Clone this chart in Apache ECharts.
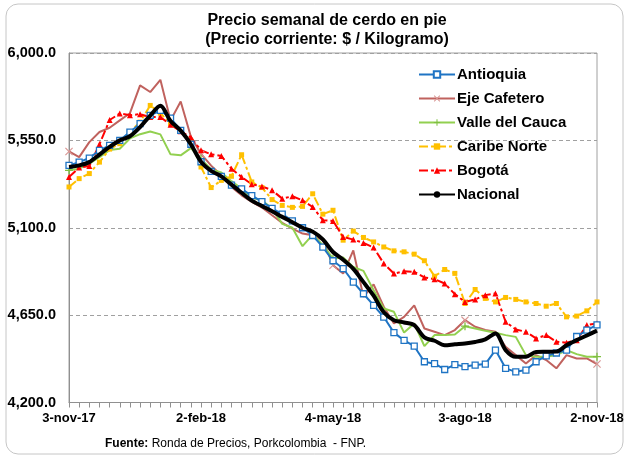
<!DOCTYPE html>
<html>
<head>
<meta charset="utf-8">
<script src="https://cdn.jsdelivr.net/npm/echarts@6/dist/echarts.min.js"></script>
<style>
html,body{margin:0;padding:0;background:#fff;}
#chart{width:629px;height:458px;}
</style>
</head>
<body>
<div id="chart"></div>
<script>
const weeks = ["3-nov-17","10-nov-17","17-nov-17","24-nov-17","1-dic-17","8-dic-17","15-dic-17","22-dic-17","29-dic-17",
"5-ene-18","12-ene-18","19-ene-18","26-ene-18","2-feb-18","9-feb-18","16-feb-18","23-feb-18","2-mar-18","9-mar-18",
"16-mar-18","23-mar-18","30-mar-18","6-abr-18","13-abr-18","20-abr-18","27-abr-18","4-may-18","11-may-18","18-may-18",
"25-may-18","1-jun-18","8-jun-18","15-jun-18","22-jun-18","29-jun-18","6-jul-18","13-jul-18","20-jul-18","27-jul-18",
"3-ago-18","10-ago-18","17-ago-18","24-ago-18","31-ago-18","7-sep-18","14-sep-18","21-sep-18","28-sep-18","5-oct-18",
"12-oct-18","19-oct-18","26-oct-18","2-nov-18"];

const antioquia = [5421,5438,5459,5499,5524,5550,5593,5636,5679,5704,5665,5601,5530,5440,5390,5365,5320,5300,5265,
5235,5200,5170,5135,5100,5060,5000,4930,4890,4820,4760,4700,4640,4560,4520,4490,4410,4400,4370,4395,
4385,4393,4398,4470,4376,4358,4367,4410,4440,4455,4470,4540,4573,4600];

const ejeCafetero = [5493,5464,5541,5593,5615,5653,5690,5833,5799,5862,5653,5750,5570,5480,5420,5370,5310,5267,5233,
5204,5164,5125,5096,5070,5061,5036,4907,4864,4983,4744,4808,4693,4607,4641,4700,4581,4564,4547,4573,
4624,4590,4573,4564,4487,4444,4401,4444,4419,4376,4444,4427,4427,4398];

const valleCauca = [5396,5404,5430,5464,5500,5507,5560,5582,5596,5581,5478,5473,5510,5455,5400,5385,5340,5300,5255,
5240,5200,5120,5100,5005,5065,5010,4941,4947,4898,4878,4778,4684,4667,4560,4607,4490,4547,4547,4550,
4593,4581,4569,4559,4547,4538,4444,4436,4436,4444,4470,4449,4436,4436];

const caribeNorte = [5310,5353,5379,5438,5505,5533,5593,5644,5730,5690,5636,5600,5545,5413,5307,5344,5365,5476,5336,
5307,5245,5215,5205,5210,5275,5170,5190,5036,5083,5050,5027,5001,4981,4976,4964,4930,4850,4885,4865,
4710,4782,4736,4718,4741,4731,4718,4710,4696,4710,4641,4645,4672,4718];

const bogota = [5361,5410,5418,5530,5655,5688,5680,5685,5670,5670,5630,5597,5565,5499,5478,5470,5404,5361,5324,
5313,5293,5250,5262,5241,5207,5139,5135,5053,5039,5022,4998,4916,4864,4876,4873,4844,4835,4813,4758,
4718,4731,4753,4762,4616,4576,4564,4530,4547,4513,4508,4521,4599,4607];

const nacional = [5413,5421,5438,5477,5516,5550,5571,5618,5678,5728,5650,5600,5530,5440,5393,5365,5322,5280,5240,
5212,5185,5156,5128,5100,5080,5040,4975,4935,4888,4820,4750,4665,4624,4612,4598,4535,4518,4495,4500,
4504,4512,4525,4556,4470,4435,4436,4460,4461,4462,4495,4521,4545,4570];

const yTicks = {min: 4200, max: 6000, step: 450};

const FONT = "'Liberation Sans', Arial, sans-serif";
const xSym = 'path://M0,1 L1,0 L5,4 L9,0 L10,1 L6,5 L10,9 L9,10 L5,6 L1,10 L0,9 L4,5 Z';
const plusSym = 'path://M4.2,0 H5.8 V4.2 H10 V5.8 H5.8 V10 H4.2 V5.8 H0 V4.2 H4.2 Z';

const chart = echarts.init(document.getElementById('chart'), null, {renderer: 'canvas'});
chart.setOption({
  animation: false,
  backgroundColor: '#fff',
  graphic: [
    {type: 'rect', shape: {x: 6, y: 4, width: 617, height: 450, r: 12},
     style: {fill: 'none', stroke: '#c6c6c6', lineWidth: 1}, z: -1},
    {type: 'text', x: 327, y: 21, style: {text: 'Precio semanal de cerdo en pie', font: 'bold 16px ' + FONT,
      fill: '#000', textAlign: 'center', textVerticalAlign: 'middle'}},
    {type: 'text', x: 327, y: 40, style: {text: '(Precio corriente: $ / Kilogramo)', font: 'bold 16px ' + FONT,
      fill: '#000', textAlign: 'center', textVerticalAlign: 'middle'}},
    {type: 'text', x: 105, y: 444, style: {
      rich: {b: {fontWeight: 'bold', fontSize: 12, fontFamily: FONT, fill: '#000'},
             n: {fontSize: 12, fontFamily: FONT, fill: '#000'}},
      text: '{b|Fuente:} {n|Ronda de Precios, Porkcolombia  - FNP.}', textVerticalAlign: 'middle'}}
  ],
  legend: {
    orient: 'vertical', left: 413, top: 62, itemWidth: 36, itemHeight: 8, itemGap: 9,
    textStyle: {fontFamily: FONT, fontSize: 15, fontWeight: 'bold', color: '#000', padding: [0,0,0,-3], lineHeight: 15},
    data: ['Antioquia','Eje Cafetero','Valle del Cauca','Caribe Norte','Bogotá','Nacional']
  },
  grid: {left: 69, right: 32, top: 53, bottom: 55.5, show: true, borderColor: '#a0a0a0', borderWidth: 1, containLabel: false},
  xAxis: {
    type: 'category', data: weeks, boundaryGap: false,
    axisLine: {lineStyle: {color: '#909090', width: 1}},
    axisTick: {show: true, interval: 0, length: 5, lineStyle: {color: '#909090'}},
    axisLabel: {interval: 12, color: '#000', fontFamily: FONT, fontSize: 13, fontWeight: 'bold', margin: 9,
      showMinLabel: true, showMaxLabel: true},
    splitLine: {show: false}
  },
  yAxis: {
    type: 'value', min: yTicks.min, max: yTicks.max, interval: yTicks.step,
    axisLine: {show: true, lineStyle: {color: '#909090'}},
    axisTick: {show: false},
    axisLabel: {color: '#000', fontFamily: FONT, fontSize: 14.5, fontWeight: 'bold', margin: 13,
      formatter: v => v.toLocaleString('en-US', {minimumFractionDigits: 1, maximumFractionDigits: 1})},
    splitLine: {show: true, lineStyle: {color: '#a0a0a0', type: [4,3], width: 1}}
  },
  series: [
    {name: 'Antioquia', type: 'line', data: antioquia, color: '#1f74c4',
     lineStyle: {width: 2, color: '#1f74c4'}, symbol: 'rect', symbolSize: 6,
     itemStyle: {color: '#fff', borderColor: '#1f74c4', borderWidth: 1.3}, z: 3},
    {name: 'Eje Cafetero', type: 'line', data: ejeCafetero, color: '#c0625e',
     lineStyle: {width: 2, color: '#c0625e'}, symbol: xSym, symbolSize: 8,
     itemStyle: {color: '#d99694'}, z: 2},
    {name: 'Valle del Cauca', type: 'line', data: valleCauca, color: '#92d050',
     lineStyle: {width: 2, color: '#92d050'}, symbol: plusSym, symbolSize: 8,
     itemStyle: {color: '#7fc040'}, z: 2},
    {name: 'Caribe Norte', type: 'line', data: caribeNorte, color: '#ffc000',
     lineStyle: {width: 2, color: '#ffc000', type: [9,3,3,3]}, symbol: 'rect', symbolSize: 5,
     itemStyle: {color: '#ffc000'}, z: 2},
    {name: 'Bogotá', type: 'line', data: bogota, color: '#ff0000',
     lineStyle: {width: 2, color: '#ff0000', type: [9,3,3,3]}, symbol: 'triangle', symbolSize: 6,
     itemStyle: {color: '#ff0000'}, z: 2},
    {name: 'Nacional', type: 'line', data: nacional, color: '#000',
     lineStyle: {width: 4, color: '#000'}, symbol: 'circle', symbolSize: 2, showSymbol: false, smooth: 0.3,
     itemStyle: {color: '#000'}, z: 5}
  ]
});
</script>
</body>
</html>
